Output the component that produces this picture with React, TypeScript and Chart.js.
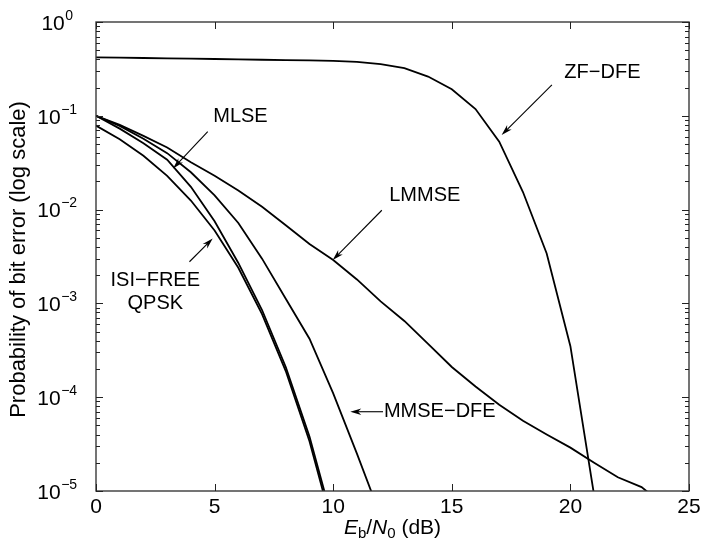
import React, { useEffect, useRef } from "react";
import { Chart, registerables } from "chart.js";

Chart.register(...registerables);

// Eb/N0 in dB (x values, one per simulated point)
const snrDb = [0, 1, 2, 3, 4, 5, 6, 7, 8, 9, 10, 11, 12, 13, 14, 15, 16, 17, 18, 19, 20, 21, 22, 23, 24];

// Bit error probabilities
const isiFreeQpsk = [0.0786, 0.0563, 0.0375, 0.0229, 0.0125, 0.006, 0.0024, 0.00077, 0.00019, 3.4e-5, 3.9e-6];
const mlse = [0.1, 0.073, 0.051, 0.034, 0.0175, 0.0075, 0.0027, 0.00085, 0.00021, 3.8e-5, 4.5e-6];
const mmseDfe = [0.1, 0.078, 0.057, 0.04, 0.025, 0.0142, 0.0072, 0.003, 0.00112, 0.00042, 0.00011, 2.5e-5, 5.4e-6];
const lmmse = [0.1, 0.08, 0.061, 0.046, 0.032, 0.023, 0.016, 0.0107, 0.0068, 0.0043, 0.0029, 0.0018, 0.00105, 0.00065, 0.00037, 0.00021, 0.00013, 8.3e-5, 5.6e-5, 4e-5, 2.9e-5, 2e-5, 1.4e-5, 1.1e-5, 6.9e-6];
const zfDfe = [0.42, 0.417, 0.413, 0.41, 0.406, 0.403, 0.4, 0.396, 0.393, 0.39, 0.386, 0.375, 0.355, 0.322, 0.262, 0.192, 0.118, 0.053, 0.0154, 0.0034, 0.00035, 9e-6];

// Axis tick labels
const xTickValues = [0, 5, 10, 15, 20, 25];
const xTickLabels = ["0", "5", "10", "15", "20", "25"];
const yTickExponents = [0, -1, -2, -3, -4, -5];
const yTickLabels = ["0", "−1", "−2", "−3", "−4", "−5"];

// Annotation labels (data coordinates)
const labelTexts = ["ZF−DFE", "MLSE", "LMMSE", "ISI−FREE", "QPSK", "MMSE−DFE"];
const labelX = [21.35, 6.09, 13.86, 2.5, 2.5, 12.14];
const labelY = [0.29, 0.098, 0.014, 0.00177, 0.001, 7e-5];
const labelAlign = ["center", "center", "center", "center", "center", "left"];

// Arrows: tail -> tip (data coordinates)
const arrowFromX = [19.22, 4.71, 12.05, 3.94, 12.1];
const arrowFromY = [0.214, 0.0677, 0.00984, 0.00278, 7e-5];
const arrowToX = [17.1, 3.25, 9.98, 4.92, 10.72];
const arrowToY = [0.0624, 0.0275, 0.0029, 0.00493, 7e-5];

const FONT = "'Liberation Sans', Arial, Helvetica, sans-serif";

function toPoints(values: number[]) {
  return values.map((v, i) => ({ x: snrDb[i], y: v }));
}

function drawArrow(ctx: CanvasRenderingContext2D, x1: number, y1: number, x2: number, y2: number) {
  const ang = Math.atan2(y2 - y1, x2 - x1);
  const len = 11;
  const half = 3.2;
  ctx.beginPath();
  ctx.moveTo(x1, y1);
  ctx.lineTo(x2 - Math.cos(ang) * len * 0.6, y2 - Math.sin(ang) * len * 0.6);
  ctx.lineWidth = 1.1;
  ctx.strokeStyle = "#000";
  ctx.stroke();
  const bx = x2 - Math.cos(ang) * len;
  const by = y2 - Math.sin(ang) * len;
  ctx.beginPath();
  ctx.moveTo(x2, y2);
  ctx.lineTo(bx + Math.sin(ang) * half, by - Math.cos(ang) * half);
  ctx.lineTo(x2 - Math.cos(ang) * len * 0.7, y2 - Math.sin(ang) * len * 0.7);
  ctx.lineTo(bx - Math.sin(ang) * half, by + Math.cos(ang) * half);
  ctx.closePath();
  ctx.fillStyle = "#000";
  ctx.fill();
}

const decorPlugin = {
  id: "decor",
  afterDatasetsDraw(chart: any) {
    const ctx: CanvasRenderingContext2D = chart.ctx;
    const xs = chart.scales.x;
    const ys = chart.scales.y;
    const { left, right, top, bottom } = chart.chartArea;
    ctx.save();

    // box
    ctx.strokeStyle = "#3a3a3a";
    ctx.lineWidth = 1.4;
    ctx.strokeRect(left, top, right - left, bottom - top);

    // x ticks
    ctx.lineWidth = 1;
    ctx.strokeStyle = "#222";
    xTickValues.forEach((v) => {
      const px = Math.round(xs.getPixelForValue(v)) + 0.5;
      ctx.beginPath();
      ctx.moveTo(px, bottom);
      ctx.lineTo(px, bottom - 7);
      ctx.moveTo(px, top);
      ctx.lineTo(px, top + 7);
      ctx.stroke();
    });

    // y ticks (major + minor)
    yTickExponents.forEach((e) => {
      const py = Math.round(ys.getPixelForValue(Math.pow(10, e))) + 0.5;
      ctx.beginPath();
      ctx.moveTo(left, py);
      ctx.lineTo(left + 7, py);
      ctx.moveTo(right, py);
      ctx.lineTo(right - 7, py);
      ctx.stroke();
      if (e < 0) {
        for (let m = 2; m <= 9; m++) {
          const pm = Math.round(ys.getPixelForValue(m * Math.pow(10, e))) + 0.5;
          ctx.beginPath();
          ctx.moveTo(left, pm);
          ctx.lineTo(left + 4, pm);
          ctx.moveTo(right, pm);
          ctx.lineTo(right - 4, pm);
          ctx.stroke();
        }
      }
    });

    ctx.fillStyle = "#000";
    // x tick labels
    ctx.font = `21px ${FONT}`;
    ctx.textAlign = "center";
    ctx.textBaseline = "middle";
    xTickValues.forEach((v, i) => {
      ctx.fillText(xTickLabels[i], xs.getPixelForValue(v), bottom + 16);
    });

    // y tick labels 10^e
    yTickExponents.forEach((e, i) => {
      const py = ys.getPixelForValue(Math.pow(10, e));
      ctx.font = `21px ${FONT}`;
      const wBase = ctx.measureText("10").width;
      ctx.font = `14px ${FONT}`;
      const wSup = ctx.measureText(yTickLabels[i]).width;
      const total = wBase + wSup;
      const cx = 57;
      const x0 = cx - total / 2;
      ctx.textAlign = "left";
      ctx.textBaseline = "middle";
      ctx.font = `21px ${FONT}`;
      ctx.fillText("10", x0, py + 2);
      ctx.font = `14px ${FONT}`;
      ctx.fillText(yTickLabels[i], x0 + wBase + 0.5, py - 6);
    });

    // x title: E_b / N_0 (dB)
    {
      const parts = [
        { t: "E", f: `italic 21px ${FONT}`, dy: 0 },
        { t: "b", f: `15px ${FONT}`, dy: 6 },
        { t: "/", f: `21px ${FONT}`, dy: 0 },
        { t: "N", f: `italic 21px ${FONT}`, dy: 0 },
        { t: "0", f: `15px ${FONT}`, dy: 6 },
        { t: " (dB)", f: `21px ${FONT}`, dy: 0 },
      ];
      let total = 0;
      const widths = parts.map((p) => {
        ctx.font = p.f;
        const w = ctx.measureText(p.t).width;
        total += w;
        return w;
      });
      let x = (left + right) / 2 - total / 2;
      const y = bottom + 37;
      ctx.textAlign = "left";
      ctx.textBaseline = "middle";
      parts.forEach((p, i) => {
        ctx.font = p.f;
        ctx.fillText(p.t, x, y + p.dy);
        x += widths[i];
      });
    }

    // y title
    ctx.save();
    ctx.translate(19, (top + bottom) / 2 + 3);
    ctx.rotate(-Math.PI / 2);
    ctx.font = `22px ${FONT}`;
    ctx.textAlign = "center";
    ctx.textBaseline = "middle";
    ctx.fillText("Probability of bit error (log scale)", 0, 0);
    ctx.restore();

    // annotations
    ctx.font = `20px ${FONT}`;
    ctx.textBaseline = "middle";
    labelTexts.forEach((t, i) => {
      ctx.textAlign = labelAlign[i] as CanvasTextAlign;
      ctx.fillText(t, xs.getPixelForValue(labelX[i]), ys.getPixelForValue(labelY[i]));
    });
    arrowFromX.forEach((_, i) => {
      drawArrow(
        ctx,
        xs.getPixelForValue(arrowFromX[i]),
        ys.getPixelForValue(arrowFromY[i]),
        xs.getPixelForValue(arrowToX[i]),
        ys.getPixelForValue(arrowToY[i])
      );
    });

    ctx.restore();
  },
};

export default function App() {
  const canvasRef = useRef<HTMLCanvasElement>(null);

  useEffect(() => {
    if (!canvasRef.current) return;
    const lineStyle = {
      borderColor: "#000",
      borderWidth: 1.8,
      pointRadius: 0,
      fill: false,
      tension: 0,
    };
    const chart = new Chart(canvasRef.current, {
      type: "line",
      data: {
        datasets: [
          { label: "ISI-FREE QPSK", data: toPoints(isiFreeQpsk), ...lineStyle },
          { label: "MLSE", data: toPoints(mlse), ...lineStyle },
          { label: "MMSE-DFE", data: toPoints(mmseDfe), ...lineStyle },
          { label: "LMMSE", data: toPoints(lmmse), ...lineStyle },
          { label: "ZF-DFE", data: toPoints(zfDfe), ...lineStyle },
        ],
      },
      options: {
        animation: false,
        responsive: false,
        maintainAspectRatio: false,
        layout: { padding: { left: 0, right: 13, top: 22, bottom: 0 } },
        plugins: { legend: { display: false }, tooltip: { enabled: false } },
        scales: {
          x: {
            type: "linear",
            min: 0,
            max: 25,
            ticks: { display: false },
            grid: { display: false },
            border: { display: false },
            afterFit: (s: any) => {
              s.height = 54;
            },
          },
          y: {
            type: "logarithmic",
            min: 1e-5,
            max: 1,
            ticks: { display: false },
            grid: { display: false },
            border: { display: false },
            afterFit: (s: any) => {
              s.width = 96;
            },
          },
        },
      },
      plugins: [decorPlugin],
    });
    return () => chart.destroy();
  }, []);

  return (
    <div style={{ position: "absolute", left: 0, top: 0, width: 702, height: 545, background: "#fff" }}>
      <canvas ref={canvasRef} width={702} height={545} style={{ display: "block" }} />
    </div>
  );
}
